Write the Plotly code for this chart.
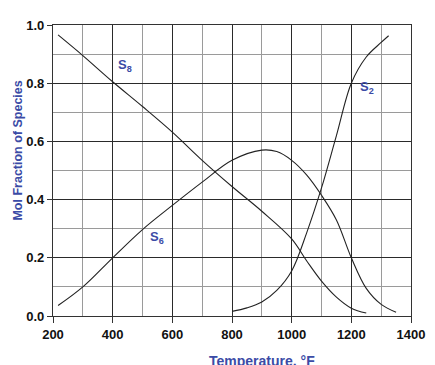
import plotly.graph_objects as go

# Data
s8_temp = [217, 300, 400, 500, 600, 700, 800, 900, 1000, 1050, 1100, 1150, 1200, 1250]
s8_frac = [0.966, 0.895, 0.805, 0.72, 0.632, 0.535, 0.445, 0.36, 0.265, 0.19, 0.12, 0.065, 0.027, 0.01]

s6_temp = [217, 300, 400, 500, 600, 700, 800, 900, 950, 1000, 1050, 1100, 1150, 1200, 1250, 1300, 1350]
s6_frac = [0.036, 0.10, 0.20, 0.297, 0.38, 0.46, 0.535, 0.57, 0.565, 0.535, 0.485, 0.415, 0.33, 0.20, 0.095, 0.04, 0.013]

s2_temp = [800, 850, 900, 950, 1000, 1050, 1100, 1150, 1200, 1250, 1300, 1325]
s2_frac = [0.016, 0.028, 0.048, 0.088, 0.155, 0.285, 0.44, 0.62, 0.80, 0.89, 0.94, 0.963]

labels = ["S<sub>8</sub>", "S<sub>6</sub>", "S<sub>2</sub>"]
label_x = [443, 547, 1253]
label_y = [0.86, 0.27, 0.785]

x_ticks = [200, 400, 600, 800, 1000, 1200, 1400]
y_ticks = [0.0, 0.2, 0.4, 0.6, 0.8, 1.0]

BLUE = "#3b4ba6"
LINE = "#222222"
FONT = "Liberation Sans, Arial, sans-serif"

fig = go.Figure()
for xs, ys in [(s8_temp, s8_frac), (s6_temp, s6_frac), (s2_temp, s2_frac)]:
    fig.add_trace(go.Scatter(x=xs, y=ys, mode="lines",
                             line=dict(color=LINE, width=1.1, shape="spline", smoothing=1.0),
                             showlegend=False, hoverinfo="skip"))

for t, x, y in zip(labels, label_x, label_y):
    fig.add_annotation(x=x, y=y, text="<b>" + t + "</b>", showarrow=False,
                       font=dict(family=FONT, size=13, color=BLUE))

fig.add_annotation(xref="paper", yref="paper", x=0.584, y=-0.154, text="<b>Temperature, °F</b>",
                   showarrow=False, xanchor="center", yanchor="middle",
                   font=dict(family=FONT, size=14, color=BLUE))
fig.add_annotation(xref="paper", yref="paper", x=-0.099, y=0.567, text="<b>Mol Fraction of Species</b>",
                   showarrow=False, xanchor="center", yanchor="middle", textangle=-90,
                   font=dict(family=FONT, size=12.5, color=BLUE))

fig.update_xaxes(range=[200, 1400], tickvals=x_ticks, ticktext=["<b>%d</b>" % v for v in x_ticks],
                 ticks="outside", ticklen=6, tickcolor="#333", tickwidth=1.2,
                 showline=True, linecolor="#333", linewidth=1.2, mirror=True,
                 showgrid=True, gridcolor="#2a2a2a", gridwidth=1.3,
                 minor=dict(dtick=100, tick0=200, showgrid=True, gridcolor="#9a9a9a", gridwidth=1.3),
                 tickfont=dict(family=FONT, size=13, color="#111"), zeroline=False)
fig.update_yaxes(range=[0, 1.0], tickvals=y_ticks, ticktext=["<b>%.1f</b>" % v for v in y_ticks],
                 ticks="outside", ticklen=5, tickcolor="#333", tickwidth=1.2,
                 showline=True, linecolor="#333", linewidth=1.2, mirror=True,
                 showgrid=True, gridcolor="#2a2a2a", gridwidth=1.3,
                 minor=dict(dtick=0.1, tick0=0, showgrid=True, gridcolor="#9a9a9a", gridwidth=1.3),
                 tickfont=dict(family=FONT, size=13, color="#111"), zeroline=False)

# page body has an 8px margin, so the figure is sized to fit the 435x365 window
fig.update_layout(width=427, height=357, margin=dict(l=45, r=18, t=10, b=49),
                  plot_bgcolor="white", paper_bgcolor="white")

fig.write_html("out.html")
